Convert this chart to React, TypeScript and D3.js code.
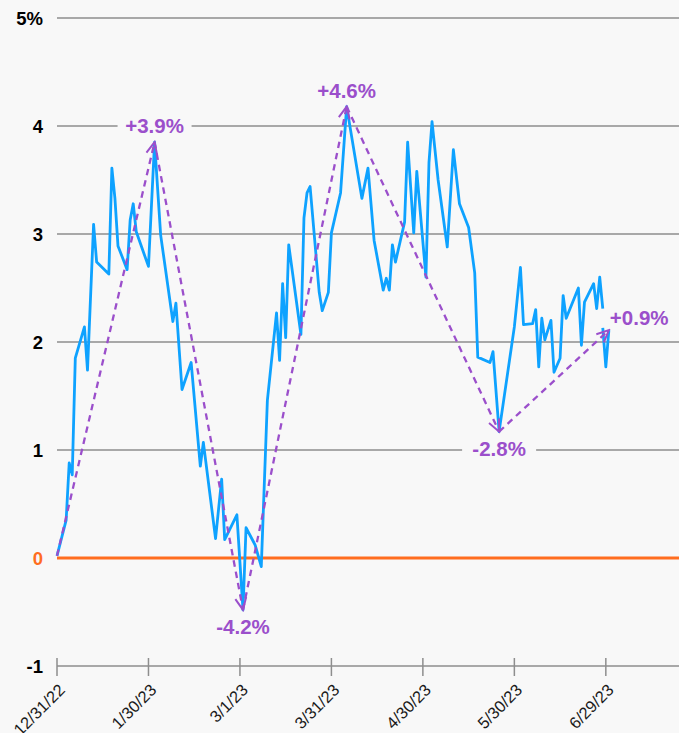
import * as d3 from 'd3';

const W = 679;
const H = 733;
const BG = '#f8f8f8';
const BLUE = '#0ea2ff';
const PURPLE = '#9b4fcb';
const ORANGE = '#ff6d1f';
const GRID = '#8e8e8e';

// daily readings (null = break in the line)
const dates = [
  '2022-12-31', '2023-01-03', '2023-01-04', '2023-01-05', '2023-01-06', '2023-01-09', '2023-01-10',
  '2023-01-12', '2023-01-13', '2023-01-17', '2023-01-18', '2023-01-19', '2023-01-20', '2023-01-23',
  '2023-01-24', '2023-01-25', '2023-01-26', '2023-01-30', '2023-02-01', '2023-02-03', '2023-02-07',
  '2023-02-08', '2023-02-10', '2023-02-13', '2023-02-16', '2023-02-17', '2023-02-21', '2023-02-23',
  '2023-02-24', '2023-02-28', '2023-03-02', '2023-03-03', '2023-03-06', '2023-03-08', '2023-03-10',
  '2023-03-13', '2023-03-14', '2023-03-15', '2023-03-16', '2023-03-17', '2023-03-21', '2023-03-22',
  '2023-03-23', '2023-03-24', '2023-03-27', '2023-03-28', '2023-03-30', '2023-03-31', '2023-04-03',
  '2023-04-05', '2023-04-10', '2023-04-12', '2023-04-14', '2023-04-17', '2023-04-18', '2023-04-19',
  '2023-04-20', '2023-04-21', '2023-04-24', '2023-04-25', '2023-04-27', '2023-04-28', '2023-05-01',
  '2023-05-02', '2023-05-03', '2023-05-05', '2023-05-08', '2023-05-10', '2023-05-12', '2023-05-15',
  '2023-05-17', '2023-05-18', '2023-05-22', '2023-05-23', '2023-05-25', '2023-05-30', '2023-06-01',
  '2023-06-02', '2023-06-05', '2023-06-06', '2023-06-07', '2023-06-08', '2023-06-09', '2023-06-11',
  '2023-06-12', '2023-06-14', '2023-06-15', '2023-06-16', '2023-06-20', '2023-06-21', '2023-06-22',
  '2023-06-25', '2023-06-26', '2023-06-27', '2023-06-28', '2023-06-28', '2023-06-28', '2023-06-29',
  '2023-06-30',
];
const values: (number | null)[] = [
  0.02, 0.35, 0.88, 0.77, 1.85, 2.14, 1.74,
  3.09, 2.74, 2.63, 3.61, 3.33, 2.89, 2.67,
  3.13, 3.28, 3.02, 2.70, 3.85, 2.99, 2.19,
  2.36, 1.56, 1.81, 0.85, 1.07, 0.18, 0.73,
  0.17, 0.40, -0.48, 0.28, 0.12, -0.08, 1.46,
  2.27, 1.83, 2.54, 2.04, 2.90, 2.07, 3.15,
  3.38, 3.44, 2.46, 2.29, 2.46, 3.01, 3.38,
  4.18, 3.33, 3.61, 2.94, 2.48, 2.59, 2.48,
  2.90, 2.74, 3.11, 3.85, 3.01, 3.58, 2.60,
  3.66, 4.04, 3.50, 2.88, 3.78, 3.28, 3.06,
  2.64, 1.86, 1.81, 1.91, 1.17, 2.14, 2.69,
  2.16, 2.17, 2.30, 1.77, 2.22, 2.02, 2.20,
  1.72, 1.85, 2.43, 2.22, 2.50, 1.97, 2.37,
  2.54, 2.31, 2.60, 2.31, null, 2.13, 1.77,
  2.11,
];

// swing points joined by the dashed arrows
const swingDates = ['2022-12-31', '2023-02-01', '2023-03-02', '2023-04-05', '2023-05-25', '2023-06-30'];
const swingValues = [0.02, 3.85, -0.48, 4.18, 1.17, 2.11];
const swingLabels = ['', '+3.9%', '-4.2%', '+4.6%', '-2.8%', '+0.9%'];

const yTicks = [-1, 0, 1, 2, 3, 4, 5];
const xTicks = ['12/31/22', '1/30/23', '3/1/23', '3/31/23', '4/30/23', '5/30/23', '6/29/23'];
const xEnd = '2023-07-23';

const parse = d3.timeParse('%Y-%m-%d');
const parseTick = d3.timeParse('%m/%d/%y');

export default function App() {
  const x = d3.scaleTime().domain([parse(dates[0])!, parse(xEnd)!]).range([57, 679]);
  const y = d3.scaleLinear().domain([-1, 5]).range([666, 18]);

  const pts = dates.map((d, i) => ({ t: parse(d)!, v: values[i] }));
  const line = d3
    .line<{ t: Date; v: number | null }>()
    .defined(d => d.v != null)
    .x(d => x(d.t))
    .y(d => y(d.v as number));

  const swings = swingDates.map((d, i) => ({ px: x(parse(d)!), py: y(swingValues[i]), label: swingLabels[i] }));

  const font = 'Arial, "Liberation Sans", sans-serif';
  const narrow = '"Liberation Sans Narrow", "Arial Narrow", "Liberation Sans", sans-serif';

  return (
    <div>
      <style>{`body{margin:0;background:${BG};}`}</style>
      <svg width={W} height={H} style={{ display: 'block', background: BG }} fontFamily={font}>
        <defs>
          <marker id="arr" viewBox="-14 -7 16 14" refX={0} refY={0} markerWidth={16} markerHeight={14}
            orient="auto" markerUnits="userSpaceOnUse">
            <path d="M-12,-5.5 L0,0 L-12,5.5" fill="none" stroke={PURPLE} strokeWidth={2} />
          </marker>
        </defs>

        {/* gridlines */}
        {yTicks.filter(t => t > 0).map(t => (
          <line key={t} x1={57} x2={W} y1={y(t)} y2={y(t)} stroke={GRID} strokeWidth={1.5} />
        ))}
        <line x1={57} x2={W} y1={y(0)} y2={y(0)} stroke={ORANGE} strokeWidth={3} />

        {/* x axis */}
        <line x1={57} x2={W} y1={y(-1)} y2={y(-1)} stroke={GRID} strokeWidth={1.5} />
        {xTicks.map(t => {
          const px = x(parseTick(t)!);
          return (
            <g key={t}>
              <line x1={px} x2={px} y1={y(-1) - 8} y2={y(-1) + 10} stroke={GRID} strokeWidth={1.5} />
              <text transform={`translate(${px + 9},${y(-1) + 25}) rotate(-45)`} textAnchor="end"
                fontFamily={narrow} fontSize={16.5} fill="#1a1a1a">{t}</text>
            </g>
          );
        })}

        {/* y labels */}
        {yTicks.map(t => (
          <text key={t} x={43} y={y(t)} dy="0.36em" textAnchor="end" fontSize={18.5} fontWeight="bold"
            fill={t === 0 ? ORANGE : '#000'}>
            {t === 5 ? '5%' : t}
          </text>
        ))}

        {/* label backgrounds masking gridlines */}
        {swings.slice(1).map((s, i) => {
          const up = i % 2 === 0;
          const last = i === swings.length - 2;
          const cx = last ? s.px + 31 : s.px;
          const by = last ? s.py - 5 : up ? s.py - 9 : s.py + 24;
          return <rect key={i} x={cx - 37} y={by - 17} width={74} height={22} fill={BG} />;
        })}

        <path d={line(pts) || ''} fill="none" stroke={BLUE} strokeWidth={2.8} strokeLinejoin="round" />

        {/* dashed swing arrows */}
        {swings.slice(1).map((s, i) => (
          <line key={i} x1={swings[i].px} y1={swings[i].py} x2={s.px} y2={s.py} stroke={PURPLE}
            strokeWidth={2.3} strokeDasharray="6.5,5" markerEnd="url(#arr)" />
        ))}

        {swings.slice(1).map((s, i) => {
          const up = i % 2 === 0;
          const last = i === swings.length - 2;
          return (
            <text key={i} x={last ? s.px + 1 : s.px} y={last ? s.py - 5 : up ? s.py - 9 : s.py + 24}
              textAnchor={last ? 'start' : 'middle'} fontSize={20.5} fontWeight="bold" fill={PURPLE}>
              {s.label}
            </text>
          );
        })}
      </svg>
    </div>
  );
}
